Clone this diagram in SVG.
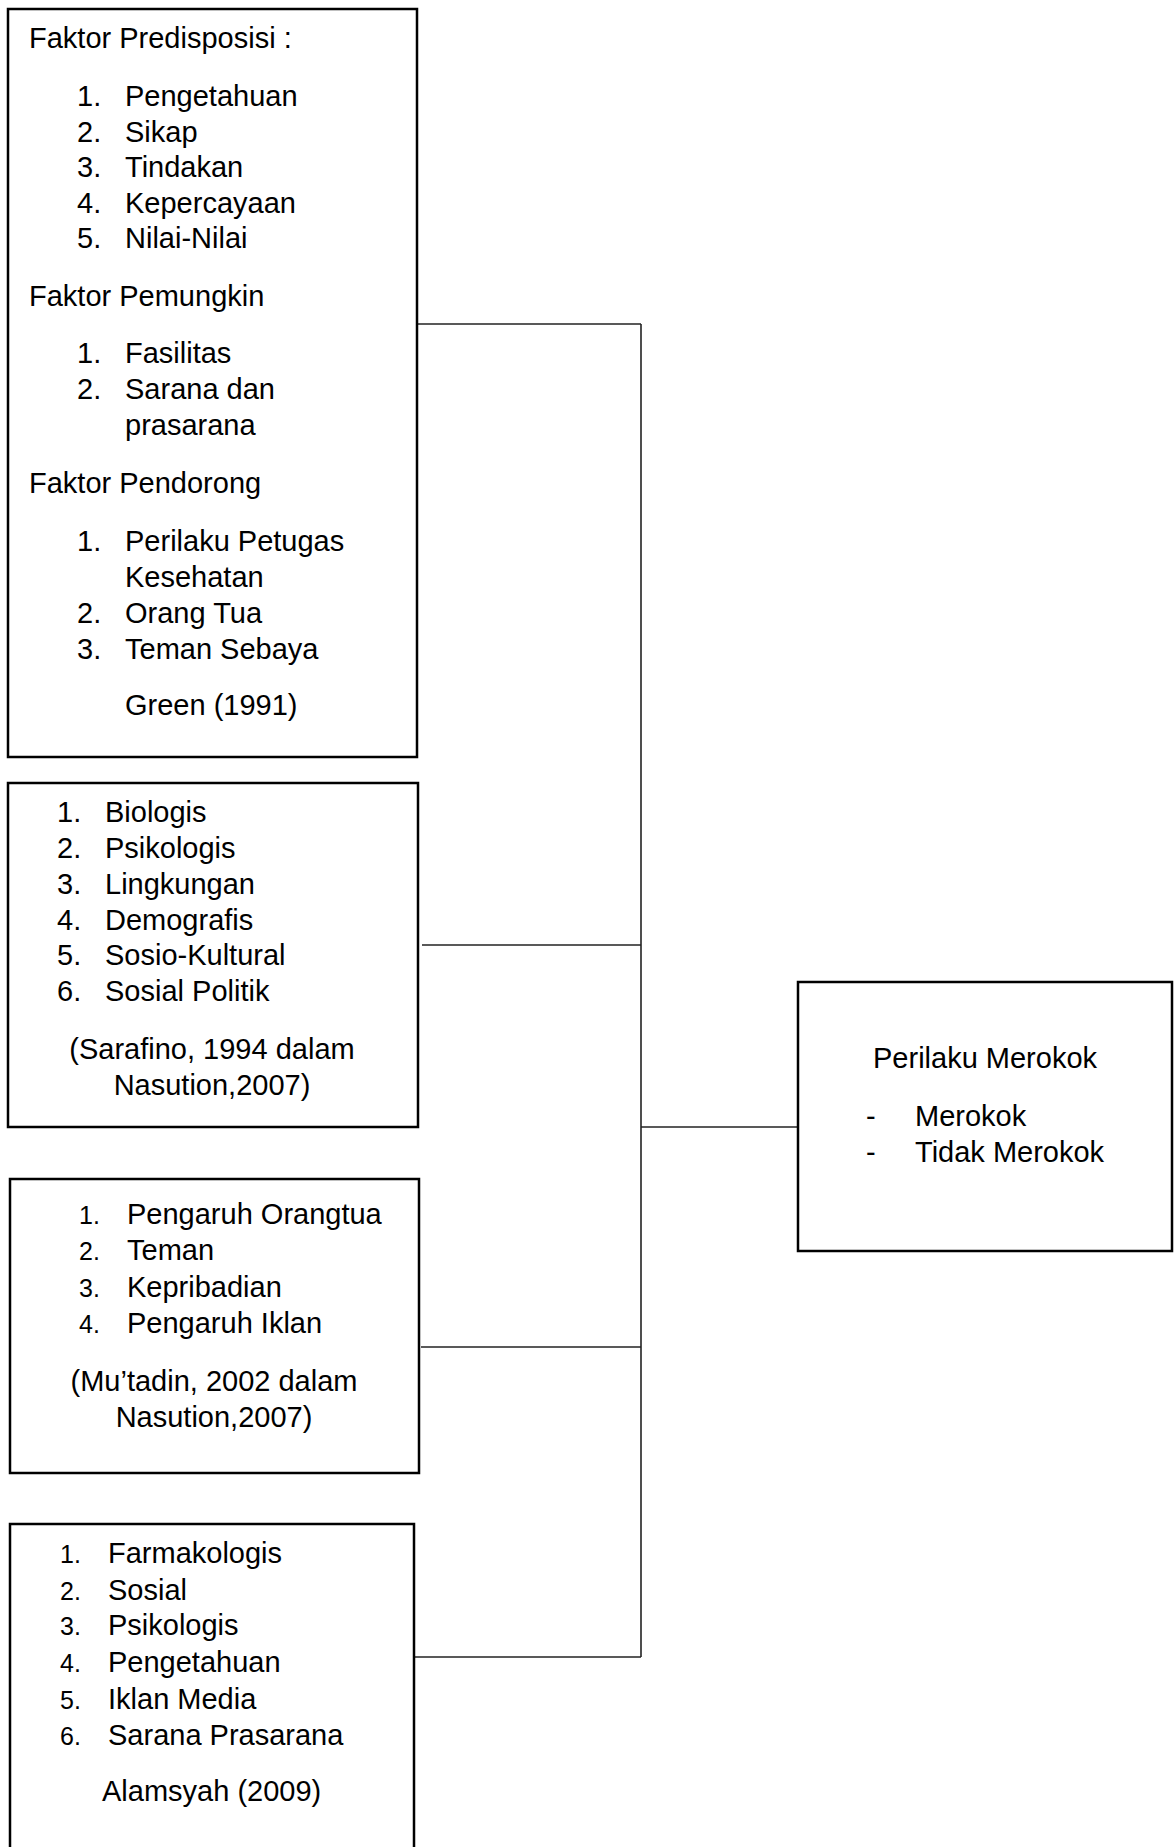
<svg xmlns="http://www.w3.org/2000/svg" width="1174" height="1847" viewBox="0 0 1174 1847">
<style>
.box{fill:#fff;stroke:#000;stroke-width:2.5}
.t{font-family:"Liberation Sans",Arial,sans-serif;font-size:29px;fill:#000}
.n{font-family:"Liberation Sans",Arial,sans-serif;font-size:25px;fill:#000}
.c{fill:none;stroke:#222;stroke-width:1.6}
</style>
<rect width="1174" height="1847" fill="#fff"/>
<g id="connectors">
<path class="c" d="M418 324H641"/>
<path class="c" d="M422 945H641"/>
<path class="c" d="M421 1347H641"/>
<path class="c" d="M415 1657H641"/>
<path class="c" d="M641 324V1657"/>
<path class="c" d="M641 1127H798"/>
</g>
<g id="green">
<rect class="box" x="8" y="9" width="409" height="748"/>
<text class="t" x="29" y="48">Faktor Predisposisi :</text>
<text class="t" x="77" y="106">1.</text><text class="t" x="125" y="106">Pengetahuan</text>
<text class="t" x="77" y="141.5">2.</text><text class="t" x="125" y="141.5">Sikap</text>
<text class="t" x="77" y="177">3.</text><text class="t" x="125" y="177">Tindakan</text>
<text class="t" x="77" y="212.5">4.</text><text class="t" x="125" y="212.5">Kepercayaan</text>
<text class="t" x="77" y="248">5.</text><text class="t" x="125" y="248">Nilai-Nilai</text>
<text class="t" x="29" y="306">Faktor Pemungkin</text>
<text class="t" x="77" y="363">1.</text><text class="t" x="125" y="363">Fasilitas</text>
<text class="t" x="77" y="399">2.</text><text class="t" x="125" y="399">Sarana dan</text>
<text class="t" x="125" y="435">prasarana</text>
<text class="t" x="29" y="493">Faktor Pendorong</text>
<text class="t" x="77" y="551">1.</text><text class="t" x="125" y="551">Perilaku Petugas</text>
<text class="t" x="125" y="587">Kesehatan</text>
<text class="t" x="77" y="623">2.</text><text class="t" x="125" y="623">Orang Tua</text>
<text class="t" x="77" y="658.5">3.</text><text class="t" x="125" y="658.5">Teman Sebaya</text>
<text class="t" x="125" y="715">Green (1991)</text>
</g>
<g id="sarafino">
<rect class="box" x="8" y="783" width="410" height="344"/>
<text class="t" x="57" y="822">1.</text><text class="t" x="105" y="822">Biologis</text>
<text class="t" x="57" y="857.5">2.</text><text class="t" x="105" y="857.5">Psikologis</text>
<text class="t" x="57" y="893.5">3.</text><text class="t" x="105" y="893.5">Lingkungan</text>
<text class="t" x="57" y="929.5">4.</text><text class="t" x="105" y="929.5">Demografis</text>
<text class="t" x="57" y="965">5.</text><text class="t" x="105" y="965">Sosio-Kultural</text>
<text class="t" x="57" y="1001">6.</text><text class="t" x="105" y="1001">Sosial Politik</text>
<text class="t" x="212" y="1058.5" text-anchor="middle">(Sarafino, 1994 dalam</text>
<text class="t" x="212" y="1095" text-anchor="middle">Nasution,2007)</text>
</g>
<g id="mutadin">
<rect class="box" x="10" y="1179" width="409" height="294"/>
<text class="n" x="79" y="1224">1.</text><text class="t" x="127" y="1224">Pengaruh Orangtua</text>
<text class="n" x="79" y="1260">2.</text><text class="t" x="127" y="1260">Teman</text>
<text class="n" x="79" y="1296.5">3.</text><text class="t" x="127" y="1296.5">Kepribadian</text>
<text class="n" x="79" y="1333">4.</text><text class="t" x="127" y="1333">Pengaruh Iklan</text>
<text class="t" x="214" y="1391" text-anchor="middle">(Mu’tadin, 2002 dalam</text>
<text class="t" x="214" y="1427" text-anchor="middle">Nasution,2007)</text>
</g>
<g id="alamsyah">
<rect class="box" x="10" y="1524" width="404" height="340"/>
<text class="n" x="60" y="1563">1.</text><text class="t" x="108" y="1563">Farmakologis</text>
<text class="n" x="60" y="1599.5">2.</text><text class="t" x="108" y="1599.5">Sosial</text>
<text class="n" x="60" y="1635">3.</text><text class="t" x="108" y="1635">Psikologis</text>
<text class="n" x="60" y="1672">4.</text><text class="t" x="108" y="1672">Pengetahuan</text>
<text class="n" x="60" y="1708.5">5.</text><text class="t" x="108" y="1708.5">Iklan Media</text>
<text class="n" x="60" y="1744.5">6.</text><text class="t" x="108" y="1744.5">Sarana Prasarana</text>
<text class="t" x="102" y="1801">Alamsyah (2009)</text>
</g>
<g id="perilaku">
<rect class="box" x="798" y="982" width="374" height="269"/>
<text class="t" x="873" y="1068">Perilaku Merokok</text>
<text class="t" x="866" y="1126">-</text><text class="t" x="915" y="1126">Merokok</text>
<text class="t" x="866" y="1162">-</text><text class="t" x="915" y="1162">Tidak Merokok</text>
</g>
</svg>
